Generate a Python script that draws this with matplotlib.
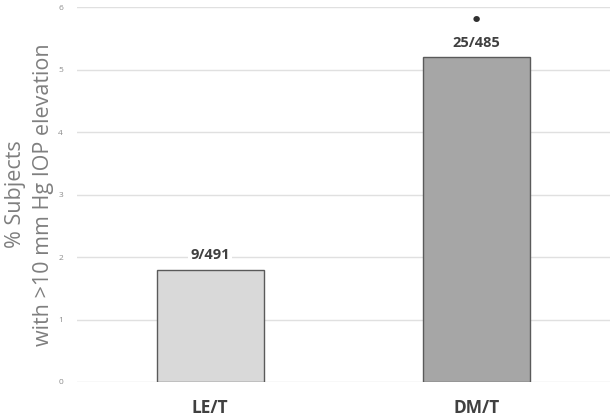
import numpy as np
import matplotlib.pyplot as plt

categories = ['LE/T', 'DM/T']
percent = [1.8, 5.2]
counts = ['9/491', '25/485']
bar_colors = ['#d9d9d9', '#a6a6a6']

plt.rcParams['font.family'] = ['Open Sans', 'DejaVu Sans']

fig = plt.figure(figsize=(6.13, 4.2), dpi=100)
ax = fig.add_axes([0.1256, 0.0905, 0.8694, 0.8925])

x = np.arange(len(categories))
bars = ax.bar(x, percent, width=0.4, color=bar_colors, edgecolor='#5a5a5a',
              linewidth=1.0, zorder=3)

for b, lab in zip(bars, counts):
    ax.text(b.get_x() + b.get_width() / 2, b.get_height() + 0.12, lab,
            ha='center', va='bottom', fontsize=10.5, fontweight='bold',
            color='#404040', zorder=4,
            bbox=dict(facecolor='white', edgecolor='none', pad=1.5))

# significance marker
ax.text(x[1], percent[1] + 0.58, '•', ha='center', va='center',
        fontsize=16, color='#303030', family='DejaVu Sans')

ax.set_xlim(-0.5, 1.5)
ax.set_ylim(0, 6)
ax.set_yticks(range(0, 7))
ax.set_xticks(x)
ax.set_xticklabels(categories, fontsize=12.5, fontweight='bold', color='#404040')
ax.tick_params(axis='y', labelsize=6, colors='#8c8c8c', length=0, pad=10)
ax.tick_params(axis='x', length=0, pad=12)
ax.grid(axis='y', color='#e0e0e0', linewidth=1.0, zorder=0)
for s in ax.spines.values():
    s.set_visible(False)

ax.set_ylabel('% Subjects\nwith >10 mm Hg IOP elevation', fontsize=15.5,
              color='#7f7f7f', labelpad=3, linespacing=1.45)

fig.savefig('out.png', dpi=100)
